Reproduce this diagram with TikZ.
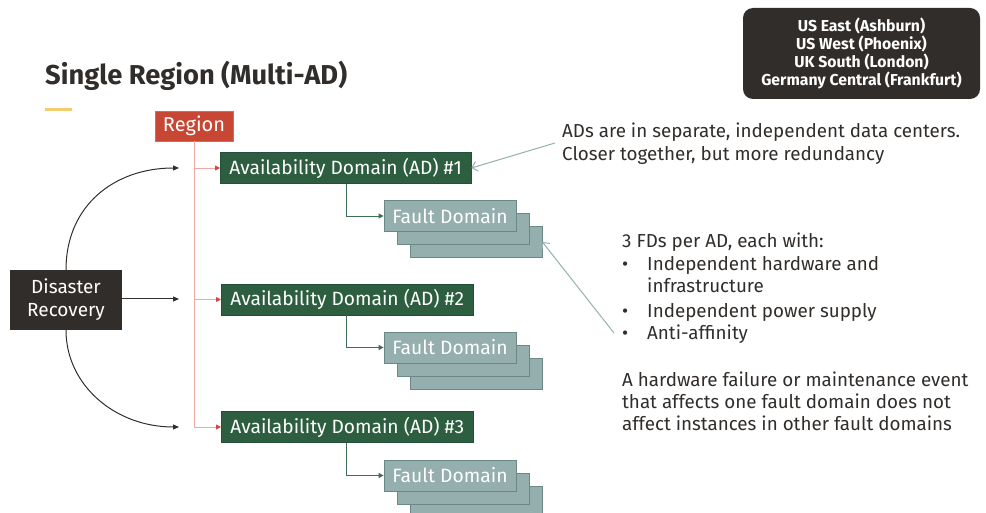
\documentclass[tikz,border=0pt]{standalone}
\usepackage{fontspec}
\setmainfont{Fira Sans}
\usetikzlibrary{arrows.meta,positioning}
\definecolor{dark}{HTML}{312D2A}
\definecolor{regred}{HTML}{C74634}
\definecolor{redline}{HTML}{EFA9A0}
\definecolor{redtip}{HTML}{D0493A}
\definecolor{adgreen}{HTML}{2C5E3F}
\definecolor{adborder}{HTML}{22503A}
\definecolor{fdfill}{HTML}{94AFAE}
\definecolor{fdborder}{HTML}{6A8886}
\definecolor{gline}{HTML}{3E6E55}
\definecolor{teal}{HTML}{94B0AF}
\definecolor{yel}{HTML}{F5CC6D}
\tikzset{
  adbox/.style={draw=adborder, fill=adgreen, text=white, minimum height=31pt, inner xsep=9pt, anchor=west, font=\fontsize{19.2}{21}\selectfont, line width=0.8pt},
  fdbox/.style={draw=fdborder, fill=fdfill, text=white, minimum width=132pt, minimum height=31pt, inner sep=0pt, font=\fontsize{19.3}{21}\selectfont, line width=0.8pt},
  body/.style={anchor=base west, inner sep=0pt, text=dark, font=\fontsize{18.8}{22}\selectfont},
  redarr/.style={draw=redline, line width=0.9pt, -{Triangle[length=5pt,width=5pt,color=redtip]}},
  garr/.style={draw=gline, line width=0.9pt, -{Triangle[length=5pt,width=5pt]}},
  darr/.style={draw=dark, line width=1pt, -{Triangle[length=6pt,width=5pt]}},
  tarr/.style={draw=teal, line width=1pt, -{Straight Barb[length=5pt,width=10pt]}}
}
\begin{document}
\begin{tikzpicture}[x=1pt,y=-1pt]
\useasboundingbox (0,0) rectangle (986,513);
% title
\node[anchor=base west, inner sep=0pt, text=dark, font=\fontsize{27.3}{29}\selectfont\bfseries] (title) at (45,85) {Single Region (Multi-AD)};
\draw[yel, line width=3pt] (45,110) -- (72,110);
% region box top right
\node[draw=none, fill=dark, rounded corners=10pt, minimum width=237pt, minimum height=91pt, text=white, align=center, font=\fontsize{15.8}{17.7}\selectfont\bfseries] (regions) at (861.5,53.5) {US East (Ashburn)\\US West (Phoenix)\\UK South (London)\\Germany Central (Frankfurt)};
% region
\node[draw=regred!80!white, fill=regred, text=white, minimum width=78pt, minimum height=30pt, inner sep=0pt, font=\fontsize{20}{22}\selectfont] (region) at (194,126) {Region};
% ADs
\node[adbox] (ad1) at (220,168) {Availability Domain (AD) \#1};
\node[adbox] (ad2) at (221,299.5) {Availability Domain (AD) \#2};
\node[adbox] (ad3) at (221,427) {Availability Domain (AD) \#3};
% red connectors
\coordinate (rb) at (region.south |- ad3.west);
\draw[draw=redline, line width=0.9pt] (region.south) -- (rb);
\coordinate (r1) at (region.south |- ad1.west);
\coordinate (r2) at (region.south |- ad2.west);
\draw[redarr] (r1) -- (ad1.west);
\draw[redarr] (r2) -- (ad2.west);
\draw[redarr] (rb) -- (ad3.west);
% fault domains
\foreach \i/\y in {1/216, 2/347.5, 3/475.5}{
  \node[fdbox] (fd\i c) at (476,\y+26) {};
  \node[fdbox] (fd\i b) at (463,\y+13) {};
  \node[fdbox] (fd\i) at (450,\y) {Fault Domain};
}
\coordinate (g1) at (346,0);
\draw[garr] (ad1.south -| g1) |- (fd1.west);
\draw[garr] (ad2.south -| g1) |- (fd2.west);
\draw[garr] (ad3.south -| g1) |- (fd3.west);
% disaster recovery
\node[fill=dark, text=white, minimum width=112pt, minimum height=60pt, align=center, font=\fontsize{19}{23}\selectfont] (dr) at (66,300) {Disaster\\Recovery};
\coordinate (d1) at (179,168);
\coordinate (d2) at (179,299);
\coordinate (d3) at (179,427);
\draw[darr] (dr.north) .. controls (66,205) and (115,168) .. (d1);
\draw[darr] (dr.east |- d2) -- (d2);
\draw[darr] (dr.south) .. controls (66,385) and (115,427) .. (d3);
% callout 1
\node[body] (c1a) at (562,138) {ADs are in separate, independent data centers.};
\node[body] (c1b) at (562,161) {Closer together, but more redundancy};
\coordinate (c1s) at (555,143);
\draw[tarr] (c1s) -- (ad1.east);
% callout 2
\node[body] (c2a) at (622,248) {3 FDs per AD, each with:};
\node[body] (b1) at (622,271) {•};
\node[body] (c2b) at (647,271) {Independent hardware and};
\node[body] (c2c) at (647,293) {infrastructure};
\node[body] (b2) at (622,317) {•};
\node[body] (c2d) at (647,317) {Independent power supply};
\node[body] (b3) at (622,339) {•};
\node[body] (c2e) at (647,339) {Anti-affinity};
\node[body] (c3a) at (622,386) {A hardware failure or maintenance event};
\node[body] (c3b) at (622,408) {that affects one fault domain does not};
\node[body] (c3c) at (622,430) {affect instances in other fault domains};
\coordinate (c2s) at (614,333);
\draw[tarr] (c2s) -- (fd1c.east);
\end{tikzpicture}
\end{document}
